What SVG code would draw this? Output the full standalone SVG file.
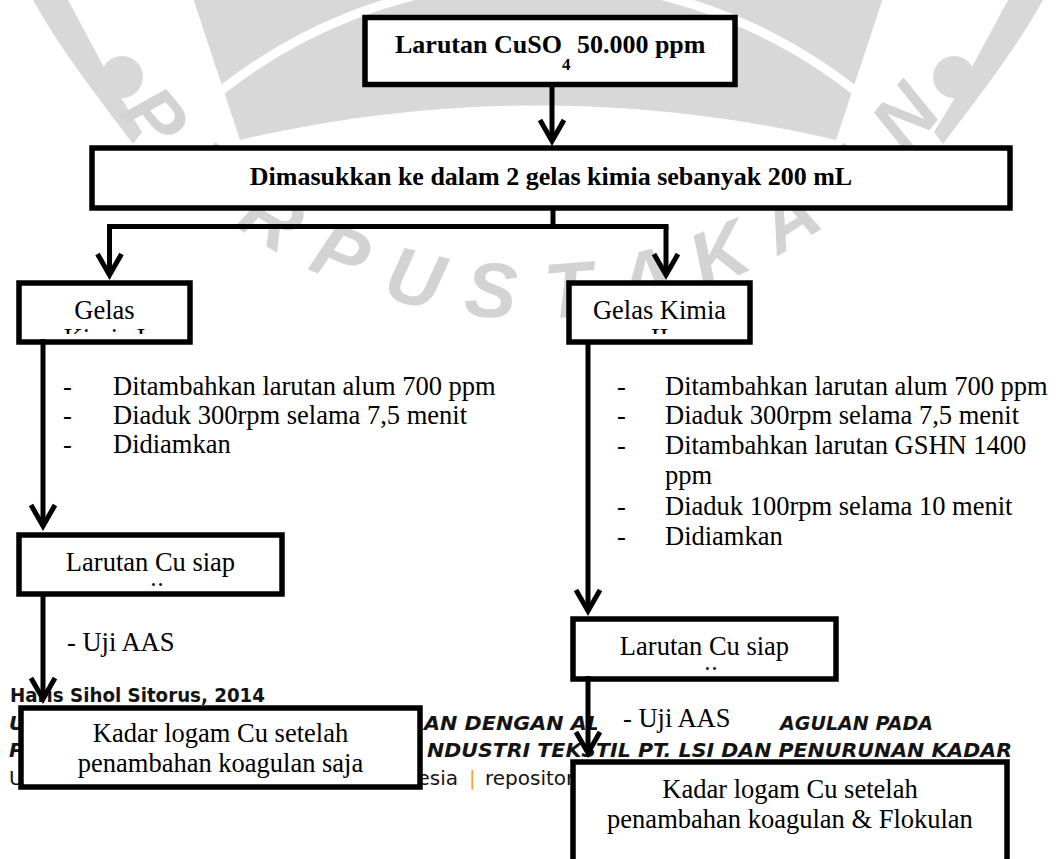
<svg xmlns="http://www.w3.org/2000/svg" width="1056" height="859" viewBox="0 0 1056 859">
  <defs>
    <style>
      .box{fill:#fff;stroke:#000;stroke-width:5.5}
      .t{font-family:"Liberation Serif","Times New Roman",serif;font-size:26.5px;fill:#000}
      .b{font-weight:bold;font-size:26px}
      .c{text-anchor:middle}
      .conn{fill:none;stroke:#000;stroke-width:5}
      .wm{fill:#d8d8d8}
      .wl{font-family:"Liberation Sans",Arial,sans-serif;font-weight:bold;font-style:italic;font-size:78px;fill:#d3d3d3;text-anchor:middle;dominant-baseline:central}
      .ft{font-family:"DejaVu Sans",Verdana,sans-serif;font-size:20px;fill:#141414}
      .fb{font-weight:bold}
      .fi{font-style:italic}
    </style>
    <marker id="arr" markerUnits="userSpaceOnUse" orient="auto" markerWidth="40" markerHeight="40" viewBox="-30 -20 40 40" refX="0" refY="0" overflow="visible">
      <path d="M-21,-12 L0,0 L-21,12" fill="none" stroke="#000" stroke-width="5"/>
    </marker>
    <clipPath id="clipG1"><rect x="19" y="283" width="171" height="51"/></clipPath>
    <clipPath id="clipG2"><rect x="569" y="283" width="181" height="51"/></clipPath>
    <clipPath id="clipL1"><rect x="19" y="535" width="263" height="51"/></clipPath>
    <clipPath id="clipL2"><rect x="573" y="619" width="263" height="51"/></clipPath>
  </defs>

  <!-- library watermark -->
  <g id="watermark">
    <path class="wm" d="M33,0 L68,0 C95,50 118,95 142,132 L133,144 C100,100 62,52 33,0 Z"/>
    <path class="wm" d="M1043,0 L1008,0 C981,50 958,95 934,132 L943,144 C976,100 1014,52 1043,0 Z"/>
    <circle class="wm" cx="122" cy="77" r="21"/>
    <circle class="wm" cx="954" cy="77" r="21"/>
    <path class="wm" d="M192,-5 L240,140 A1300,1300 0 0 1 836,140 L884,-5 Z"/>
    <path d="M198,110 A511,511 0 0 1 878,110" fill="none" stroke="#fff" stroke-width="9"/>
    <text class="wl" transform="translate(155,117) rotate(50)">P</text>
    <text class="wl" transform="translate(209,172) rotate(40.9)">E</text>
    <text class="wl" transform="translate(272,218) rotate(31.8)">R</text>
    <text class="wl" transform="translate(341,254) rotate(22.7)">P</text>
    <text class="wl" transform="translate(415,278) rotate(13.6)">U</text>
    <text class="wl" transform="translate(491,290) rotate(4.5)">S</text>
    <text class="wl" transform="translate(568,290) rotate(-4.5)">T</text>
    <text class="wl" transform="translate(645,278) rotate(-13.6)">A</text>
    <text class="wl" transform="translate(719,254) rotate(-22.7)">K</text>
    <text class="wl" transform="translate(788,218) rotate(-31.8)">A</text>
    <text class="wl" transform="translate(851,172) rotate(-40.9)">A</text>
    <text class="wl" transform="translate(905,117) rotate(-50)">N</text>
  </g>

  <!-- page footer -->
  <g id="footer" class="ft">
    <text class="fb" x="10" y="702" textLength="255" lengthAdjust="spacingAndGlyphs">Haris Sihol Sitorus, 2014</text>
    <text class="fb fi" x="9" y="730">UJI</text>
    <text class="fb fi" x="424" y="730" textLength="176" lengthAdjust="spacingAndGlyphs">AN DENGAN AL</text>
    <text class="fb fi" x="780" y="730" textLength="153" lengthAdjust="spacingAndGlyphs">AGULAN PADA</text>
    <text class="fb fi" x="9" y="757">P</text>
    <text class="fb fi" x="427" y="757" textLength="585" lengthAdjust="spacingAndGlyphs">NDUSTRI TEKSTIL PT. LSI DAN PENURUNAN KADAR</text>
    <text x="9" y="785">U</text>
    <text x="458" y="785" text-anchor="end">Indonesia</text>
    <text x="469" y="785" fill="#f2a900">|</text>
    <text x="485" y="785">repository</text>
  </g>

  <!-- step notes -->
  <g id="notes-left" class="t">
    <text x="63" y="395">-</text><text x="113" y="395">Ditambahkan larutan alum 700 ppm</text>
    <text x="63" y="424">-</text><text x="113" y="424">Diaduk 300rpm selama 7,5 menit</text>
    <text x="63" y="453">-</text><text x="113" y="453">Didiamkan</text>
  </g>
  <g id="notes-right" class="t">
    <text x="617" y="395">-</text><text x="665" y="395">Ditambahkan larutan alum 700 ppm</text>
    <text x="617" y="424">-</text><text x="665" y="424">Diaduk 300rpm selama 7,5 menit</text>
    <text x="617" y="454">-</text><text x="665" y="454">Ditambahkan larutan GSHN 1400</text>
    <text x="665" y="484">ppm</text>
    <text x="617" y="515">-</text><text x="665" y="515">Diaduk 100rpm selama 10 menit</text>
    <text x="617" y="545">-</text><text x="665" y="545">Didiamkan</text>
  </g>
  <g id="uji-left" class="t">
    <text x="67" y="651">- Uji AAS</text>
  </g>
  <g id="uji-right">
    <rect x="597" y="704" width="181" height="33" fill="#fff"/>
    <text class="t" x="623" y="727">- Uji AAS</text>
  </g>

  <!-- process boxes -->
  <g id="node-cuso4">
    <rect class="box" x="365" y="17.5" width="370" height="67"/>
    <text class="t b" x="395" y="53">Larutan CuSO<tspan font-size="17" dy="17">4</tspan><tspan dy="-17"> 50.000 ppm</tspan></text>
  </g>
  <g id="node-dimasukkan">
    <rect class="box" x="92" y="148" width="918" height="60"/>
    <text class="t b c" x="551" y="185">Dimasukkan ke dalam 2 gelas kimia sebanyak 200 mL</text>
  </g>
  <g id="node-gelas1">
    <rect class="box" x="19" y="283" width="171" height="59"/>
    <text class="t c" x="104.5" y="319">Gelas</text>
    <text class="t c" x="104.5" y="347" clip-path="url(#clipG1)">Kimia I</text>
  </g>
  <g id="node-gelas2">
    <rect class="box" x="569" y="283" width="181" height="59"/>
    <text class="t c" x="659.5" y="319">Gelas Kimia</text>
    <text class="t c" x="659.5" y="347" clip-path="url(#clipG2)">II</text>
  </g>
  <g id="node-siap1">
    <rect class="box" x="19" y="535" width="263" height="59"/>
    <text class="t c" x="150.5" y="571">Larutan Cu siap</text>
    <text class="t c" x="150.5" y="601" clip-path="url(#clipL1)">uji</text>
  </g>
  <g id="node-siap2">
    <rect class="box" x="573" y="619" width="263" height="60"/>
    <text class="t c" x="704.5" y="655">Larutan Cu siap</text>
    <text class="t c" x="704.5" y="685" clip-path="url(#clipL2)">uji</text>
  </g>
  <g id="node-kadar1">
    <rect class="box" x="21" y="708" width="399" height="79"/>
    <text class="t c" x="220.5" y="742">Kadar logam Cu setelah</text>
    <text class="t c" x="220.5" y="772">penambahan koagulan saja</text>
  </g>
  <g id="node-kadar2">
    <rect class="box" x="573" y="762" width="434" height="130"/>
    <text class="t c" x="790" y="798">Kadar logam Cu setelah</text>
    <text class="t c" x="790" y="828">penambahan koagulan &amp; Flokulan</text>
  </g>

  <!-- connectors -->
  <g id="connectors" class="conn">
    <path d="M552,87 V141" marker-end="url(#arr)"/>
    <path d="M553,210 V226.5"/>
    <path d="M107,226.5 H668.5"/>
    <path d="M109.5,226.5 V275" marker-end="url(#arr)"/>
    <path d="M666,226.5 V275" marker-end="url(#arr)"/>
    <path d="M43,339 V526" marker-end="url(#arr)"/>
    <path d="M43,592 V699" marker-end="url(#arr)"/>
    <path d="M588,341 V611" marker-end="url(#arr)"/>
    <path d="M588,676 V753" marker-end="url(#arr)"/>
  </g>
</svg>
